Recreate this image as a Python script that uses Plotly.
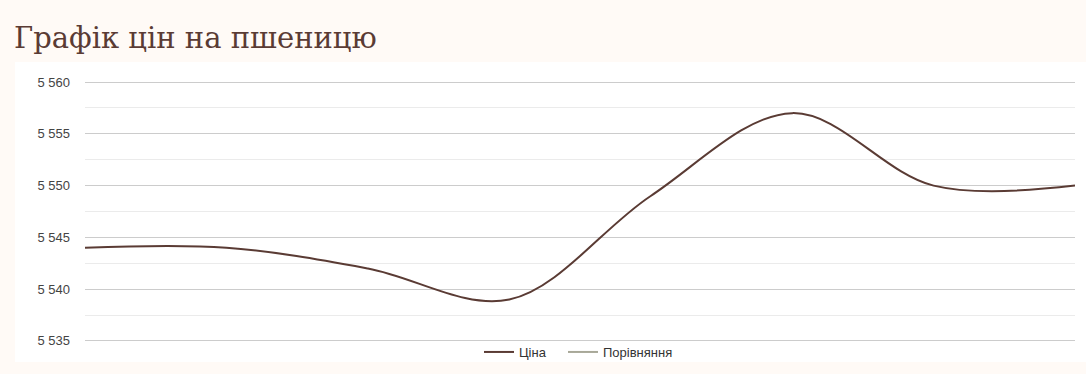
import plotly.graph_objects as go

# Data
points = [0, 1, 2, 3, 4, 5, 6, 7]
price = [5544.0, 5544.0, 5542.0, 5539.0, 5549.0, 5557.0, 5550.0, 5550.0]
series_names = ["Ціна", "Порівняння"]
title_text = "Графік цін на пшеницю"
y_ticks = [5535, 5540, 5545, 5550, 5555, 5560]

W, H = 1086, 374
L, R, T, B = 85, 11, 80, 31
PW, PH = W - L - R, H - T - B

fig = go.Figure()
fig.add_trace(go.Scatter(x=points, y=price, mode="lines", name=series_names[0],
                         line=dict(color="#5a3b34", width=2, shape="spline", smoothing=1.0),
                         hoverinfo="x+y", legend="legend"))
fig.add_trace(go.Scatter(x=[None], y=[None], mode="lines", name=series_names[1],
                         line=dict(color="#a8a898", width=2), legend="legend2"))

leg_common = dict(orientation="h", xanchor="left", xref="container",
                  y=(H - 352) / H, yanchor="middle", yref="container",
                  font=dict(family="Liberation Sans, Arial", size=13, color="#333333"),
                  bgcolor="rgba(0,0,0,0)", itemwidth=30)

fig.update_layout(
    width=W, height=H,
    paper_bgcolor="#fffaf6", plot_bgcolor="#ffffff",
    margin=dict(l=L, r=R, t=T, b=B, pad=0, autoexpand=False),
    separators=". ",
    title=dict(text=title_text, x=14 / W, xanchor="left", xref="container",
               y=1 - 38 / H, yanchor="middle", yref="container",
               font=dict(family="DejaVu Serif", size=29, color="#5a3b34")),
    showlegend=True,
    legend=dict(x=479 / W, **leg_common),
    legend2=dict(x=563 / W, **leg_common),
    xaxis=dict(range=[0, 7], showgrid=False, zeroline=False, showticklabels=False,
               showline=False, ticks=""),
    yaxis=dict(range=[5534.8, 5560.2], tickvals=y_ticks, tickformat=",d",
               showgrid=True, gridcolor="#cccccc", gridwidth=1, zeroline=False,
               ticks="", ticklabelstandoff=14,
               tickfont=dict(family="Liberation Sans, Arial", size=13, color="#444444"),
               minor=dict(dtick=2.5, tick0=5535, showgrid=True, gridcolor="#ebebeb", gridwidth=1)),
    shapes=[dict(type="rect", xref="paper", yref="paper", layer="below",
                 x0=(15 - L) / PW, x1=1 + R / PW,
                 y0=-(362 - (H - B)) / PH, y1=1 + (T - 62) / PH,
                 fillcolor="#ffffff", line=dict(width=0))],
)
fig.write_html("out.html")
